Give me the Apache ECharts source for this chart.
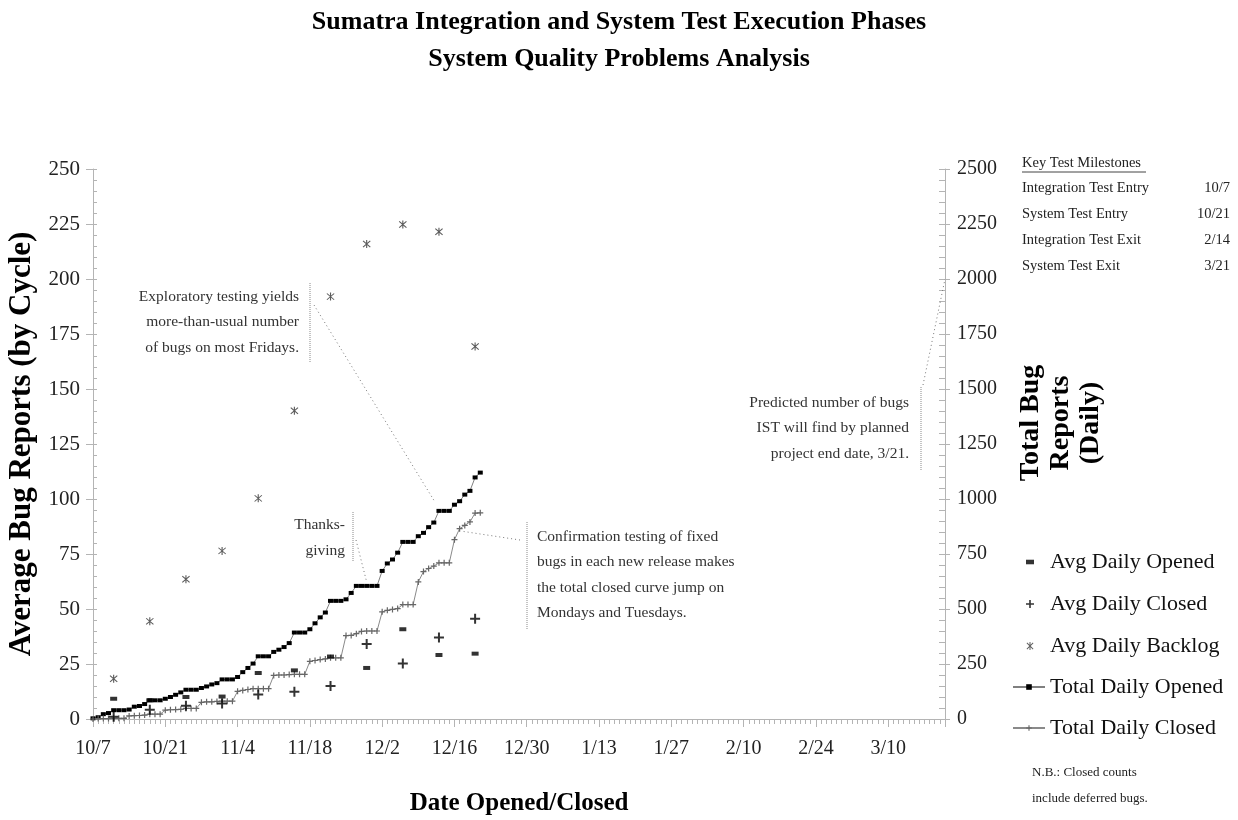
<!DOCTYPE html>
<html>
<head>
<meta charset="utf-8">
<script src="https://cdn.jsdelivr.net/npm/echarts/dist/echarts.min.js"></script>
<style>
  html, body { margin: 0; background: #fff; }
  #chart { width: 1238px; height: 820px; }
</style>
</head>
<body>
<div id="chart"></div>
<script>
// day 0 = 10/7 (Integration Test Entry), axis ends at 3/21 (day 165)
const startDate = new Date(2002, 9, 7)
const lastDay = 165

const tickLabels = ['10/7', '10/21', '11/4', '11/18', '12/2', '12/16', '12/30', '1/13', '1/27', '2/10', '2/24', '3/10']

// weekly cycle values (left axis)
const cycleDates = ['10/11', '10/18', '10/25', '11/1', '11/8', '11/15', '11/22', '11/29', '12/6', '12/13', '12/20']
const avgOpened = [9.2, 8.5, 10.0, 10.2, 20.9, 22.1, 28.4, 23.2, 40.8, 29.1, 29.7]
const avgClosed = [1.0, 4.2, 6.0, 7.0, 11.1, 12.4, 15.0, 34.1, 25.2, 37.0, 45.6]
const avgBacklog = [18.3, 44.4, 63.5, 76.4, 100.3, 140.1, 192.0, 215.9, 224.8, 221.5, 169.3]

// daily running totals from 10/7 (right axis)
const totalOpened = [
  3, 8, 22, 27, 40, 40, 40,
  43, 56, 59, 68, 85, 85, 85,
  92, 100, 110, 121, 133, 133, 133,
  141, 148, 157, 163, 180, 180, 180,
  191, 213, 232, 252, 285, 285, 285,
  305, 315, 327, 345, 393, 393, 393,
  408, 435, 462, 484, 537, 537, 537,
  544, 573, 605, 605, 605, 605, 605,
  673, 707, 725, 756, 805, 805, 805,
  831, 846, 872, 893, 946, 946, 946,
  974, 990, 1020, 1037, 1098, 1120
]
const totalClosed = [
  0, 2, 2, 2, 3, 3, 3,
  14, 15, 16, 18, 22, 22, 22,
  40, 42, 43, 44, 48, 48, 48,
  76, 78, 78, 80, 81, 81, 81,
  126, 130, 134, 138, 138, 138, 138,
  198, 200, 200, 202, 203, 203, 203,
  262, 266, 270, 273, 278, 278, 278,
  379, 380, 388, 398, 400, 400, 400,
  487, 494, 498, 502, 520, 520, 520,
  623, 670, 684, 695, 710, 710, 710,
  815, 865, 880, 896, 936, 937
]

// prediction for 3/21
const predictedDate = '3/21'
const predictedBugs = 2000

const milestoneNames = ['Integration Test Entry', 'System Test Entry', 'Integration Test Exit', 'System Test Exit']
const milestoneDates = ['10/7', '10/21', '2/14', '3/21']

const SERIF = "'Liberation Serif', 'DejaVu Serif', serif"
const AXIS_GRAY = '#b4b4b4'

const SYM_DASH = 'path://M0,0H7V4H0Z'
const SYM_PLUS = 'path://M4,0H6V4H10V6H6V10H4V6H0V4H4Z'
const SYM_STAR = 'path://M4.4,0H5.6V10H4.4Z M0.7,1.5L1.5,0.7L9.3,8.5L8.5,9.3Z M8.5,0.7L9.3,1.5L1.5,9.3L0.7,8.5Z'

function dayOf (md) {
  const [m, d] = md.split('/').map(Number)
  const y = m >= 9 ? 2002 : 2003
  return Math.round((new Date(y, m - 1, d) - startDate) / 864e5)
}

const cycleDays = cycleDates.map(dayOf)
const pairs = vals => vals.map((v, i) => [cycleDays[i], v])

var chart = echarts.init(document.getElementById('chart'), null, { renderer: 'canvas' })

var option = {
  animation: false,
  backgroundColor: '#fff',
  title: {
    text: 'Sumatra Integration and System Test Execution Phases\nSystem Quality Problems Analysis',
    left: 'center',
    top: 0,
    padding: [4, 0, 0, 0],
    textStyle: { fontFamily: SERIF, fontWeight: 'bold', fontSize: 26, lineHeight: 37, color: '#000' }
  },
  grid: { left: 93, right: 293, top: 169, bottom: 101, outerBoundsMode: 'none', containLabel: false },
  legend: [
    {
      data: ['Avg Daily Opened', 'Avg Daily Closed', 'Avg Daily Backlog'],
      orient: 'vertical',
      left: 1026,
      top: 550,
      padding: 0,
      itemWidth: 8,
      itemHeight: 8,
      itemGap: 18,
      selectedMode: false,
      textStyle: { fontFamily: SERIF, fontSize: 22, color: '#111', lineHeight: 24, padding: [0, 0, 0, 11] }
    },
    {
      data: ['Total Daily Opened', 'Total Daily Closed'],
      orient: 'vertical',
      left: 1012,
      top: 675,
      padding: 0,
      itemWidth: 32,
      itemHeight: 7,
      itemGap: 17,
      selectedMode: false,
      textStyle: { fontFamily: SERIF, fontSize: 22, color: '#111', lineHeight: 24 }
    }
  ],
  xAxis: [
    {
      type: 'value',
      min: 0,
      max: lastDay,
      interval: 14,
      axisLine: { show: true, lineStyle: { color: AXIS_GRAY } },
      axisTick: { show: true, inside: false, length: 8, lineStyle: { color: AXIS_GRAY } },
      splitLine: { show: false },
      axisLabel: {
        margin: 20,
        fontFamily: SERIF,
        fontSize: 20,
        color: '#222',
        showMaxLabel: true,
        formatter: v => (v % 14 === 0 && tickLabels[v / 14]) || ''
      },
      name: 'Date Opened/Closed',
      nameLocation: 'middle',
      nameGap: 72,
      nameTextStyle: { fontFamily: SERIF, fontWeight: 'bold', fontSize: 25, color: '#000' }
    },
    {
      // daily minor ticks
      type: 'value',
      min: 0,
      max: lastDay,
      interval: 1,
      axisLine: { show: false },
      axisTick: { show: true, inside: true, length: 5, lineStyle: { color: AXIS_GRAY } },
      axisLabel: { show: false },
      splitLine: { show: false }
    }
  ],
  yAxis: [
    {
      type: 'value',
      position: 'left',
      min: 0,
      max: 250,
      interval: 25,
      axisLine: { show: true, lineStyle: { color: AXIS_GRAY } },
      axisTick: { show: true, inside: false, length: 7, lineStyle: { color: AXIS_GRAY } },
      splitLine: { show: false },
      axisLabel: { margin: 13, fontFamily: SERIF, fontSize: 21, color: '#222', showMinLabel: true, showMaxLabel: true },
      name: 'Average Bug Reports (by Cycle)',
      nameLocation: 'middle',
      nameGap: 50,
      nameTextStyle: { fontFamily: SERIF, fontWeight: 'bold', fontSize: 31, color: '#000' }
    },
    {
      type: 'value',
      position: 'left',
      min: 0,
      max: 250,
      interval: 5,
      axisLine: { show: false },
      axisTick: { show: true, inside: true, length: 4, lineStyle: { color: AXIS_GRAY } },
      axisLabel: { show: false },
      splitLine: { show: false }
    },
    {
      type: 'value',
      position: 'right',
      min: 0,
      max: 2500,
      interval: 250,
      axisLine: { show: true, lineStyle: { color: AXIS_GRAY } },
      axisTick: { show: true, inside: false, length: 5, lineStyle: { color: AXIS_GRAY } },
      splitLine: { show: false },
      axisLabel: { margin: 12, fontFamily: SERIF, fontSize: 20, color: '#222', showMinLabel: true, showMaxLabel: true, formatter: v => String(v) }
    },
    {
      type: 'value',
      position: 'right',
      min: 0,
      max: 2500,
      interval: 50,
      axisLine: { show: false },
      axisTick: { show: true, inside: true, length: 6, lineStyle: { color: AXIS_GRAY } },
      axisLabel: { show: false },
      splitLine: { show: false }
    }
  ],
  series: [
    {
      name: 'Avg Daily Opened',
      type: 'scatter',
      xAxisIndex: 0,
      yAxisIndex: 0,
      symbol: SYM_DASH,
      symbolSize: [7, 4],
      itemStyle: { color: '#000' },
      data: pairs(avgOpened),
      z: 5
    },
    {
      name: 'Avg Daily Closed',
      type: 'scatter',
      xAxisIndex: 0,
      yAxisIndex: 0,
      symbol: SYM_PLUS,
      symbolSize: 10,
      itemStyle: { color: '#000' },
      data: pairs(avgClosed),
      z: 5
    },
    {
      name: 'Avg Daily Backlog',
      type: 'scatter',
      xAxisIndex: 0,
      yAxisIndex: 0,
      symbol: SYM_STAR,
      symbolSize: 8,
      itemStyle: { color: '#333' },
      data: pairs(avgBacklog),
      z: 5
    },
    {
      name: 'Total Daily Opened',
      type: 'line',
      xAxisIndex: 0,
      yAxisIndex: 2,
      symbol: 'rect',
      symbolSize: [5, 4],
      showAllSymbol: true,
      itemStyle: { color: '#000' },
      lineStyle: { color: '#808080', width: 1 },
      data: totalOpened.map((v, i) => [i, v])
    },
    {
      name: 'Total Daily Closed',
      type: 'line',
      xAxisIndex: 0,
      yAxisIndex: 2,
      symbol: SYM_PLUS,
      symbolSize: 6,
      showAllSymbol: true,
      itemStyle: { color: '#666' },
      lineStyle: { color: '#8a8a8a', width: 1 },
      data: totalClosed.map((v, i) => [i, v])
    }
  ]
}

chart.setOption(option)

// annotations and side texts
function px (day, val) {
  return chart.convertToPixel({ xAxisIndex: 0, yAxisIndex: 2 }, [day, val])
}

const noteFont = { fontFamily: SERIF, fontSize: 15.5, fill: '#333' }
const dotted = { stroke: '#777', lineWidth: 1, lineDash: [1, 3] }
const bar = { stroke: '#888', lineWidth: 1, lineDash: [1, 1] }

function note (text, x, y, align, lineHeight) {
  return { type: 'text', x: x, y: y, style: Object.assign({ text: text, align: align, verticalAlign: 'middle', lineHeight: lineHeight }, noteFont), z: 10 }
}
function seg (x1, y1, x2, y2, style) {
  return { type: 'line', shape: { x1: x1, y1: y1, x2: x2, y2: y2 }, style: style, z: 10 }
}

const pExplore = px(66, 995)
const pThanks = px(53, 623)
const pConfirm = px(71.6, 853)
const pPredict = px(dayOf(predictedDate), predictedBugs)

const graphics = [
  // right axis title
  {
    type: 'text',
    x: 1061,
    y: 423,
    rotation: Math.PI / 2,
    style: { text: 'Total Bug\nReports\n(Daily)', fontFamily: SERIF, fontWeight: 'bold', fontSize: 28, lineHeight: 30, align: 'center', verticalAlign: 'middle', fill: '#000' }
  },

  note('Exploratory testing yields\nmore-than-usual number\nof bugs on most Fridays.', 299, 322, 'right', 25.5),
  seg(310, 283, 310, 362, bar),
  seg(314, 305, pExplore[0], pExplore[1], dotted),

  note('Thanks-\ngiving', 345, 538, 'right', 26),
  seg(353, 512, 353, 562, bar),
  seg(356, 540, pThanks[0], pThanks[1], dotted),

  note('Confirmation testing of fixed\nbugs in each new release makes\nthe total closed curve jump on\nMondays and Tuesdays.', 537, 575, 'left', 25.3),
  seg(527, 522, 527, 630, bar),
  seg(520, 540, pConfirm[0], pConfirm[1], dotted),

  note('Predicted number of bugs\nIST will find by planned\nproject end date, 3/21.', 909, 428, 'right', 25.5),
  seg(921, 387, 921, 470, bar),
  seg(923, 385, pPredict[0], pPredict[1], dotted),

  // milestones
  { type: 'text', x: 1022, y: 163, style: { text: 'Key Test Milestones', fontFamily: SERIF, fontSize: 14.5, fill: '#222', verticalAlign: 'middle' } },
  seg(1022, 172, 1146, 172, { stroke: '#444', lineWidth: 1 }),

  // note
  { type: 'text', x: 1032, y: 786, style: { text: 'N.B.: Closed counts\ninclude deferred bugs.', fontFamily: SERIF, fontSize: 13, lineHeight: 26, fill: '#222', verticalAlign: 'middle' } }
]

milestoneNames.forEach((name, i) => {
  const y = 188 + i * 26.2
  graphics.push({ type: 'text', x: 1022, y: y, style: { text: name, fontFamily: SERIF, fontSize: 14.5, fill: '#222', verticalAlign: 'middle' } })
  graphics.push({ type: 'text', x: 1230, y: y, style: { text: milestoneDates[i], fontFamily: SERIF, fontSize: 14.5, fill: '#222', align: 'right', verticalAlign: 'middle' } })
})

chart.setOption({ graphic: graphics })
</script>
</body>
</html>
